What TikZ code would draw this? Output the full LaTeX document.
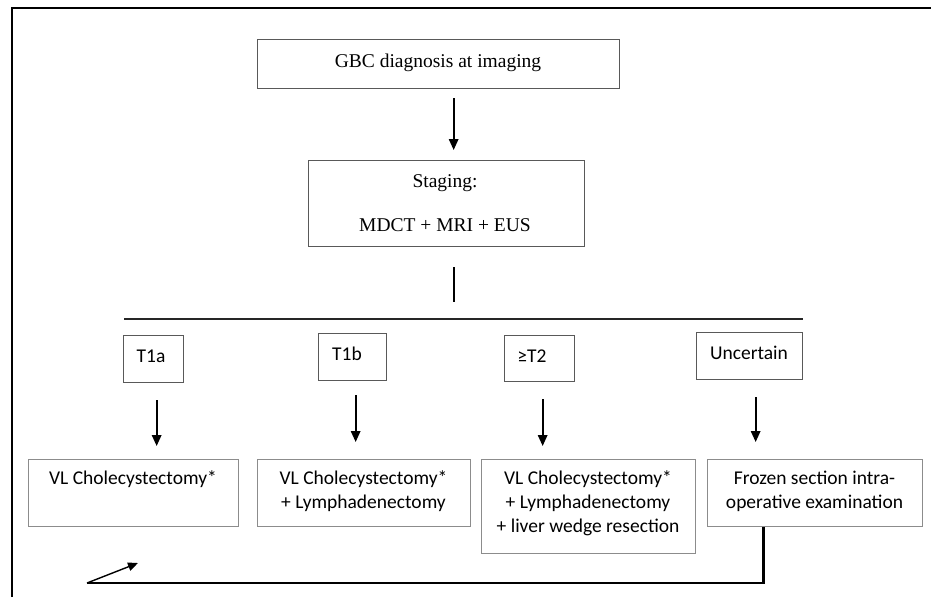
\documentclass[tikz,border=0pt]{standalone}
\usepackage{fontspec}
\setmainfont{Liberation Serif}
\newfontfamily\calfont{Carlito}
\usetikzlibrary{arrows.meta}
\begin{document}
\begin{tikzpicture}[x=1pt,y=-1pt,
  topbox/.style={draw=black!65,line width=1.3pt,inner sep=0pt,anchor=north west},
  lowbox/.style={draw=black!45,line width=1.3pt,inner sep=0pt,anchor=north west},
  ttxt/.style={font=\fontsize{19.5}{44}\selectfont,inner sep=0pt,align=center,anchor=base},
  ctxt/.style={font=\calfont\fontsize{19.5}{24}\selectfont,inner sep=0pt,align=center,anchor=base},
  arr/.style={line width=1.7pt,-{Triangle[length=11pt,width=9.5pt]}},
  barline/.style={line width=1.6pt,black!85},
  fbline/.style={line width=2.5pt},
  fbarr/.style={line width=1.4pt,-{Triangle[length=10pt,width=8.5pt]}}]
\useasboundingbox (0,0) rectangle (931,597);
% frame
\draw[line width=2.6pt] (12,597) -- (12,8) -- (931,8);
% top boxes
\node[topbox,minimum width=362,minimum height=49] (gbc) at (257,39) {};
\node[ttxt] (gbct) at (438,67) {GBC diagnosis at imaging};
\node[topbox,minimum width=276,minimum height=86] (stg) at (308,160) {};
\node[ttxt] (stgt) at (445,231) {Staging:\\MDCT + MRI + EUS};
% stage boxes
\node[topbox,minimum width=60,minimum height=47] (t1a) at (123,335) {};
\node[ctxt] (t1at) at (151,362) {T1a};
\node[topbox,minimum width=68,minimum height=47] (t1b) at (318,333) {};
\node[ctxt] (t1bt) at (347,360) {T1b};
\node[topbox,minimum width=70,minimum height=46] (t2) at (504,335) {};
\node[ctxt] (t2t) at (532,362) {≥T2};
\node[topbox,minimum width=106,minimum height=47] (unc) at (696,332) {};
\node[ctxt] (unct) at (749,359) {Uncertain};
% treatment boxes
\node[lowbox,minimum width=210,minimum height=67] (vl1) at (28,459) {};
\node[ctxt] (vl1t) at (133,484) {VL Cholecystectomy*};
\node[lowbox,minimum width=213,minimum height=67] (vl2) at (257,459) {};
\node[ctxt] (vl2t) at (363.5,508) {VL Cholecystectomy*\\+ Lymphadenectomy};
\node[lowbox,minimum width=214,minimum height=94] (vl3) at (481,459) {};
\node[ctxt] (vl3t) at (588,532) {VL Cholecystectomy*\\+ Lymphadenectomy\\+ liver wedge resection};
\node[lowbox,minimum width=215,minimum height=67] (frz) at (707,459) {};
\node[ctxt] (frzt) at (814.5,508) {Frozen section intra-\\operative examination};
% bar
\coordinate (barL) at (124,319);
\coordinate (barR) at (803,319);
\draw[barline] (barL) -- (barR);
% connectors
\draw[arr,shorten <=9pt,shorten >=10pt] ([xshift=15]gbc.south) -- ([xshift=7]stg.north);
\draw[line width=1.7pt,shorten <=20pt,shorten >=17pt] ([xshift=7]stg.south) -- ([xshift=7]stg.south |- barL);
\draw[arr,shorten <=17pt,shorten >=13pt] ([xshift=3]t1a.south) -- ([xshift=23]vl1.north);
\draw[arr,shorten <=14pt,shorten >=17pt] ([xshift=3]t1b.south) -- ([xshift=-8.5]vl2.north);
\draw[arr,shorten <=17pt,shorten >=13pt] ([xshift=3]t2.south) -- ([xshift=-46]vl3.north);
\draw[arr,shorten <=17pt,shorten >=17pt] ([xshift=6]unc.south) -- ([xshift=-59.5]frz.north);
% feedback
\coordinate (fb) at (87,583);
\coordinate (fbt) at (138,563);
\draw[fbline] ([xshift=-51.5]frz.south) |- (fb);
\draw[fbarr] (fb) -- (fbt);
\end{tikzpicture}
\end{document}
